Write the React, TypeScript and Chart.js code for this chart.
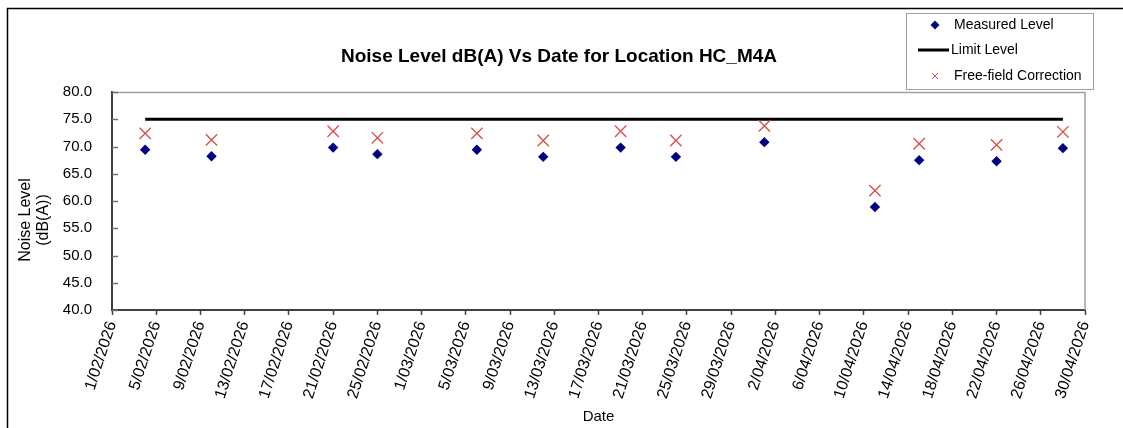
import { useEffect, useRef } from "react";
import { Chart, registerables } from "chart.js";

Chart.register(...registerables);

// ---- data ----
const sampleDates = [
  "2026-02-04", "2026-02-10", "2026-02-21", "2026-02-25", "2026-03-06",
  "2026-03-12", "2026-03-19", "2026-03-24", "2026-04-01", "2026-04-11",
  "2026-04-15", "2026-04-22", "2026-04-28",
];
const measuredLevel = [69.4, 68.2, 69.8, 68.6, 69.4, 68.1, 69.8, 68.1, 70.8, 58.9, 67.5, 67.3, 69.7];
const freeFieldCorrection = [72.4, 71.2, 72.8, 71.6, 72.4, 71.1, 72.8, 71.1, 73.8, 61.9, 70.5, 70.3, 72.7];
const limitLevel = [75, 75, 75, 75, 75, 75, 75, 75, 75, 75, 75, 75, 75];

const axisStartDate = "2026-02-01";
const axisEndDate = "2026-04-30";
const xTickStepDays = 4;
const yMin = 40;
const yMax = 80;
const yStep = 5;

const chartTitle = "Noise Level dB(A) Vs Date for Location HC_M4A";
const yTitleLines = ["Noise Level", "(dB(A))"];
const xTitle = "Date";
const seriesNames = ["Measured Level", "Limit Level", "Free-field Correction"];

const FONT = "'Liberation Sans', Arial, Helvetica, sans-serif";
const DAY = 86400000;

function toUtc(s: string) {
  const [y, m, d] = s.split("-").map(Number);
  return Date.UTC(y, m - 1, d);
}
const origin = toUtc(axisStartDate);
const dayIndex = (s: string) => Math.round((toUtc(s) - origin) / DAY);
const fmtDate = (v: number) => {
  const dt = new Date(origin + v * DAY);
  const d = dt.getUTCDate();
  const m = String(dt.getUTCMonth() + 1).padStart(2, "0");
  return `${d}/${m}/${dt.getUTCFullYear()}`;
};

const MEASURED_COLOR = "#000080";
const CROSS_COLOR = "#D9534F";

const decorPlugin = {
  id: "excelDecor",
  beforeDatasetsDraw(chart: any) {
    const { ctx, chartArea: a } = chart;
    ctx.save();
    // top and right gray borders of plot area
    ctx.strokeStyle = "#A0A0A0";
    ctx.lineWidth = 1.5;
    ctx.beginPath();
    ctx.moveTo(a.left, a.top + 0.5);
    ctx.lineTo(a.right, a.top + 0.5);
    ctx.lineTo(a.right, a.bottom);
    ctx.stroke();
    // inside ticks on y axis
    const ys = chart.scales.y;
    ctx.strokeStyle = "#707070";
    ctx.lineWidth = 1.5;
    ys.ticks.forEach((t: any) => {
      const py = Math.round(ys.getPixelForValue(t.value)) + 0.5;
      ctx.beginPath();
      ctx.moveTo(a.left, py);
      ctx.lineTo(a.left + 6, py);
      ctx.stroke();
    });
    ctx.restore();
  },
  afterDraw(chart: any) {
    const { ctx } = chart;
    ctx.save();
    // outer chart border (top & left visible)
    ctx.strokeStyle = "#000";
    ctx.lineWidth = 1.5;
    ctx.beginPath();
    ctx.moveTo(7.5, chart.height);
    ctx.lineTo(7.5, 8.5);
    ctx.lineTo(chart.width, 8.5);
    ctx.stroke();

    // title
    ctx.fillStyle = "#000";
    ctx.font = `bold 19px ${FONT}`;
    ctx.textAlign = "center";
    ctx.textBaseline = "alphabetic";
    ctx.fillText(chartTitle, 559, 62);

    // y-axis title
    ctx.save();
    ctx.translate(26, 220);
    ctx.rotate(-Math.PI / 2);
    ctx.font = `16px ${FONT}`;
    ctx.textAlign = "center";
    ctx.textBaseline = "middle";
    ctx.fillText(yTitleLines[0], 0, 0);
    ctx.fillText(yTitleLines[1], 0, 18);
    ctx.restore();

    // legend box
    ctx.fillStyle = "#fff";
    ctx.fillRect(906, 13, 188, 77);
    ctx.strokeStyle = "#A0A0A0";
    ctx.lineWidth = 1;
    ctx.strokeRect(906.5, 13.5, 187, 76);

    // legend markers
    ctx.fillStyle = MEASURED_COLOR;
    ctx.beginPath();
    ctx.moveTo(935, 20.5);
    ctx.lineTo(939.5, 25);
    ctx.lineTo(935, 29.5);
    ctx.lineTo(930.5, 25);
    ctx.closePath();
    ctx.fill();

    ctx.strokeStyle = "#000";
    ctx.lineWidth = 3;
    ctx.beginPath();
    ctx.moveTo(918, 50);
    ctx.lineTo(949, 50);
    ctx.stroke();

    ctx.strokeStyle = CROSS_COLOR;
    ctx.lineWidth = 1;
    ctx.beginPath();
    ctx.moveTo(932, 73);
    ctx.lineTo(938, 79);
    ctx.moveTo(938, 73);
    ctx.lineTo(932, 79);
    ctx.stroke();

    ctx.fillStyle = "#000";
    ctx.font = `14px ${FONT}`;
    ctx.textAlign = "left";
    ctx.textBaseline = "middle";
    ctx.fillText(seriesNames[0], 954, 25);
    ctx.fillText(seriesNames[1], 951, 50);
    ctx.fillText(seriesNames[2], 954, 76);
    ctx.restore();
  },
};

export default function App() {
  const ref = useRef<HTMLCanvasElement | null>(null);

  useEffect(() => {
    if (!ref.current) return;
    const xs = sampleDates.map(dayIndex);
    const chart = new Chart(ref.current, {
      type: "scatter",
      data: {
        datasets: [
          {
            label: seriesNames[0],
            data: xs.map((x, i) => ({ x, y: measuredLevel[i] })),
            pointStyle: "rectRot",
            pointRadius: 5.2,
            backgroundColor: MEASURED_COLOR,
            borderColor: MEASURED_COLOR,
            borderWidth: 0,
            order: 1,
          },
          {
            label: seriesNames[1],
            data: xs.map((x, i) => ({ x, y: limitLevel[i] })),
            showLine: true,
            pointRadius: 0,
            borderColor: "#000",
            borderWidth: 3,
            order: 3,
          },
          {
            label: seriesNames[2],
            data: xs.map((x, i) => ({ x, y: freeFieldCorrection[i] })),
            pointStyle: "crossRot",
            pointRadius: 8,
            borderColor: CROSS_COLOR,
            backgroundColor: CROSS_COLOR,
            borderWidth: 1.4,
            order: 2,
          },
        ],
      },
      options: {
        animation: false,
        responsive: false,
        layout: { padding: { left: 0, right: 38, top: 92, bottom: 0 } },
        plugins: {
          legend: { display: false },
          title: { display: false },
          tooltip: { enabled: false },
        },
        scales: {
          x: {
            type: "linear",
            min: dayIndex(axisStartDate),
            max: dayIndex(axisEndDate),
            afterFit: (s: any) => {
              s.height = 118;
            },
            border: { display: true, color: "#404040", width: 2 },
            grid: {
              drawOnChartArea: false,
              drawTicks: true,
              tickLength: 5,
              tickColor: "#404040",
              tickWidth: 1.5,
            },
            ticks: {
              stepSize: xTickStepDays,
              autoSkip: false,
              minRotation: 72,
              maxRotation: 72,
              color: "#000",
              padding: 4,
              font: { family: FONT, size: 16 },
              callback: (v: any) => fmtDate(Number(v)),
            },
            title: {
              display: true,
              text: xTitle,
              color: "#000",
              font: { family: FONT, size: 15 },
              padding: { top: 0, bottom: 2 },
            },
          },
          y: {
            type: "linear",
            min: yMin,
            max: yMax,
            afterFit: (s: any) => {
              s.width = 112;
            },
            border: { display: true, color: "#404040", width: 2 },
            grid: { drawOnChartArea: false, drawTicks: false },
            ticks: {
              stepSize: yStep,
              color: "#000",
              padding: 20,
              font: { family: FONT, size: 15 },
              callback: (v: any) => Number(v).toFixed(1),
            },
          },
        },
      },
      plugins: [decorPlugin],
    } as any);
    return () => chart.destroy();
  }, []);

  return (
    <div style={{ position: "fixed", left: 0, top: 0, width: 1123, height: 428, background: "#fff" }}>
      <canvas ref={ref} width={1123} height={428} />
    </div>
  );
}
